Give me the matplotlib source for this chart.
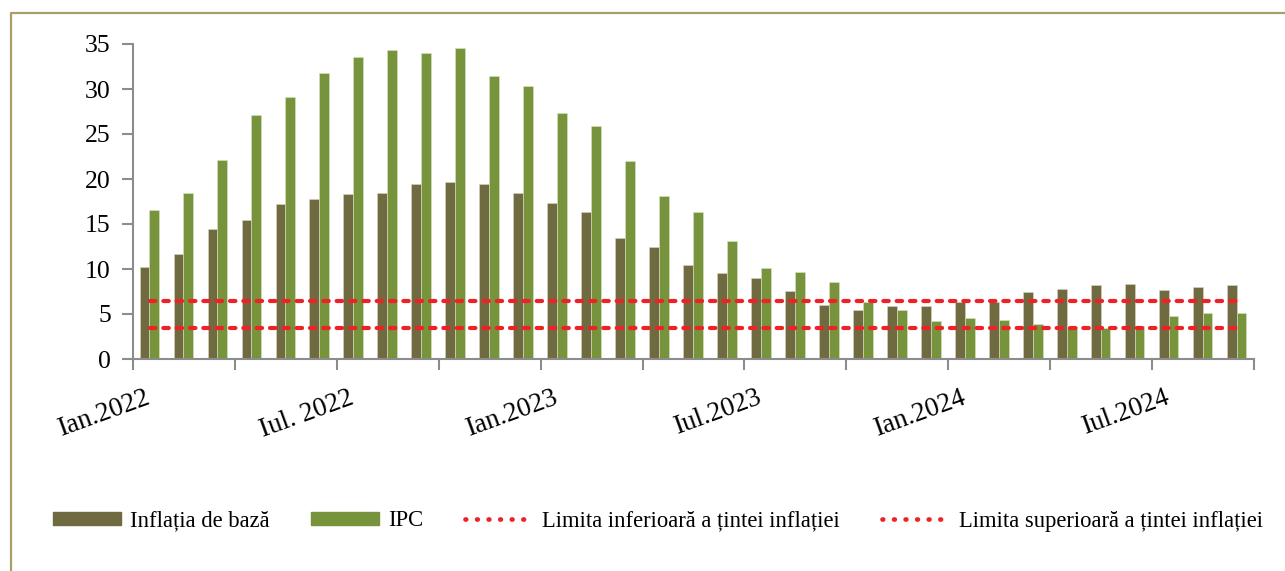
import matplotlib
matplotlib.use('Agg')
import matplotlib.pyplot as plt
import matplotlib.transforms as mtransforms
from matplotlib.lines import Line2D
from matplotlib.patches import Patch
import numpy as np

# lunile Ian.2022 - Sep.2024
months = ['Ian.2022', 'Feb.2022', 'Mar.2022', 'Apr.2022', 'Mai.2022', 'Iun.2022',
          'Iul. 2022', 'Aug.2022', 'Sep.2022', 'Oct.2022', 'Noi.2022', 'Dec.2022',
          'Ian.2023', 'Feb.2023', 'Mar.2023', 'Apr.2023', 'Mai.2023', 'Iun.2023',
          'Iul.2023', 'Aug.2023', 'Sep.2023', 'Oct.2023', 'Noi.2023', 'Dec.2023',
          'Ian.2024', 'Feb.2024', 'Mar.2024', 'Apr.2024', 'Mai.2024', 'Iun.2024',
          'Iul.2024', 'Aug.2024', 'Sep.2024']
core_infl = [10.2, 11.7, 14.4, 15.4, 17.2, 17.8, 18.3, 18.5, 19.4, 19.7, 19.4, 18.5,
             17.3, 16.3, 13.4, 12.4, 10.4, 9.6, 9.0, 7.6, 6.0, 5.5, 5.85, 5.85,
             6.3, 6.3, 7.4, 7.8, 8.2, 8.3, 7.7, 7.95, 8.2]
ipc = [16.6, 18.5, 22.1, 27.1, 29.1, 31.8, 33.6, 34.3, 34.0, 34.6, 31.4, 30.3,
       27.3, 25.9, 22.0, 18.1, 16.3, 13.1, 10.1, 9.7, 8.6, 6.3, 5.4, 4.2,
       4.6, 4.3, 3.9, 3.6, 3.4, 3.7, 4.8, 5.1, 5.15]
lower_limit = 3.5
upper_limit = 6.5
label_months = [0, 6, 12, 18, 24, 30]
series_names = ['Inflația de bază', 'IPC', 'Limita inferioară a țintei inflației',
                'Limita superioară a țintei inflației']

brown = '#706a40'
green = '#77933c'
red = '#ee2226'
grey = '#8c8c8c'

plt.rcParams['font.family'] = ['Liberation Serif', 'DejaVu Serif']

fig = plt.figure(figsize=(12.85, 5.71), dpi=100)
ax = fig.add_axes([133 / 1285, 1 - 359 / 571, 1121 / 1285, 315 / 571])

x = np.arange(len(months))
w = 0.29
ax.bar(x - 0.16, core_infl, width=w, color=brown, edgecolor='#d8d4c0', linewidth=0.4)
ax.bar(x - 0.16 + w, ipc, width=w, color=green, edgecolor='#d8e4c0', linewidth=0.4)
ax.hlines(lower_limit, x[0], x[-1], color=red, linewidth=3.0, linestyles=(0, (1.3, 1.9)),
          capstyle='round')
ax.hlines(upper_limit, x[0], x[-1], color=red, linewidth=3.0, linestyles=(0, (1.3, 1.9)),
          capstyle='round')

ax.set_xlim(-0.5, len(months) - 0.5)
ax.set_ylim(0, 35)
ax.set_yticks(np.arange(0, 36, 5))
ax.tick_params(axis='y', length=8, width=1.5, color=grey, labelsize=18.5, pad=8)

# tick-uri la fiecare trimestru, etichete la fiecare semestru
ax.set_xticks(np.arange(-0.5, len(months), 3))
ax.set_xticklabels([])
ax.tick_params(axis='x', which='major', length=8, width=1.5, color=grey)
ax.set_xticks(label_months, [months[i] for i in label_months], minor=True)
ax.tick_params(axis='x', which='minor', length=0, labelsize=19.5, pad=19)
shift = mtransforms.ScaledTranslation(-5 / 100, 0, fig.dpi_scale_trans)
for lab in ax.get_xticklabels(minor=True):
    lab.set_rotation(20)
    lab.set_ha('right')
    lab.set_va('top')
    lab.set_rotation_mode('anchor')
    lab.set_transform(lab.get_transform() + shift)

for s in ['top', 'right']:
    ax.spines[s].set_visible(False)
for s in ['left', 'bottom']:
    ax.spines[s].set_color(grey)
    ax.spines[s].set_linewidth(1.5)

dots = dict(color=red, linewidth=3.4, linestyle=(0, (0.15, 2.3)), dash_capstyle='round')
handles = [Patch(color=brown), Patch(color=green), Line2D([], [], **dots), Line2D([], [], **dots)]
fig.legend(handles, series_names, loc='center', bbox_to_anchor=(658 / 1285, 1 - 521 / 571),
           ncol=4, frameon=False, fontsize=16.3, handlelength=3.0, handleheight=0.55,
           handletextpad=0.4, columnspacing=1.85)

# chenarul graficului (doar stanga si sus)
fig.add_artist(Line2D([10.5 / 1285, 10.5 / 1285, 1.0], [0.0, 1 - 13 / 571, 1 - 13 / 571],
                      transform=fig.transFigure, color='#a99d6b', linewidth=1.6))

fig.savefig('out.png', dpi=100)
